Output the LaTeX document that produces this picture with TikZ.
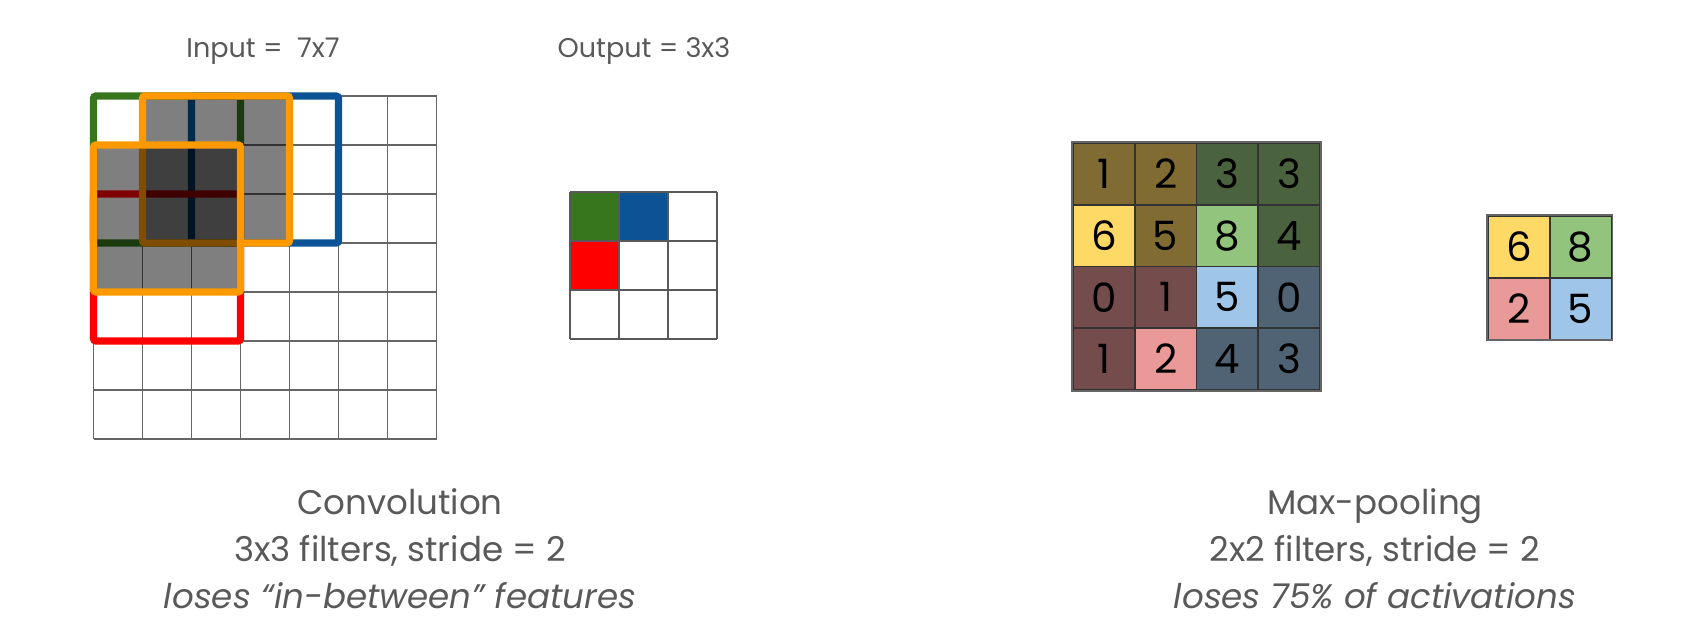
\documentclass[tikz,border=0pt]{standalone}
\usepackage{fontspec}
\setmainfont{Poppins}
\usepackage{xcolor}
\usepackage{tikz}

\definecolor{convgreen}{HTML}{38761D}
\definecolor{convblue}{HTML}{0B5394}
\definecolor{convred}{HTML}{FF0000}
\definecolor{convorange}{HTML}{FF9900}
\definecolor{gridgray}{HTML}{666666}
\definecolor{textgray}{HTML}{595959}
\definecolor{cellline}{HTML}{333333}
\definecolor{pyel}{HTML}{FFD966}
\definecolor{pgrn}{HTML}{93C47D}
\definecolor{pblu}{HTML}{9FC5E8}
\definecolor{ppnk}{HTML}{EA9999}
\colorlet{pyeldark}{pyel!50!black}
\colorlet{pgrndark}{pgrn!50!black}
\colorlet{pbludark}{pblu!50!black}
\colorlet{ppnkdark}{ppnk!50!black}

\begin{document}
\begin{tikzpicture}[
        gridline/.style={draw=gridgray, line width=1.1pt},
        frame/.style={line width=4.2pt, rounded corners=1.5pt},
        window/.style={frame, draw=convorange, fill=black, fill opacity=0.5, draw opacity=1},
        poolcell/.style={rectangle, draw=cellline, line width=1.1pt, minimum size=1.235cm, inner sep=0pt, font=\fontsize{23}{27}\selectfont, text=black},
        toplabel/.style={font=\fontsize{15.4}{18}\selectfont, text=textgray, anchor=base},
        caption/.style={font=\fontsize{19.4}{23}\selectfont, text=textgray, anchor=base}
    ]
        \useasboundingbox (0,0) rectangle (33.76,12.56);

        % ========== CONVOLUTION INPUT 7x7 ==========
        \begin{scope}[shift={(1.87,3.78)}, scale=0.98]
            \draw[gridline] (0,0) grid (7,7);
            \draw[frame, draw=convgreen] (0,4) rectangle (3,7);
            \draw[frame, draw=convblue] (2,4) rectangle (5,7);
            \draw[frame, draw=convred] (0,2) rectangle (3,5);
            \draw[window] (1,4) rectangle (4,7);
            \draw[window] (0,3) rectangle (3,6);
        \end{scope}

        % ========== CONVOLUTION OUTPUT 3x3 ==========
        \begin{scope}[shift={(11.4,5.78)}, scale=0.98]
            \fill[convgreen] (0,2) rectangle (1,3);
            \fill[convblue] (1,2) rectangle (2,3);
            \fill[convred] (0,1) rectangle (1,2);
            \draw[gridline, draw=textgray] (0,0) grid (3,3);
        \end{scope}

        % ========== MAX-POOLING INPUT 4x4 ==========
        \foreach \v/\c [count=\k from 0] in {1/pyeldark,2/pyeldark,3/pgrndark,3/pgrndark,
                6/pyel,5/pyeldark,8/pgrn,4/pgrndark,
                0/ppnkdark,1/ppnkdark,5/pblu,0/pbludark,
                1/ppnkdark,2/ppnk,4/pbludark,3/pbludark}{
            \pgfmathtruncatemacro\col{mod(\k,4)}
            \pgfmathtruncatemacro\row{div(\k,4)}
            \node[poolcell, fill=\c] (pin\k) at ({21.46+(\col+0.5)*1.235}, {9.70-(\row+0.5)*1.235}) {\v};
        }
        \draw[gridline] (pin0.north west) rectangle (pin15.south east);

        % ========== MAX-POOLING OUTPUT 2x2 ==========
        \foreach \v/\c [count=\k from 0] in {6/pyel,8/pgrn,2/ppnk,5/pblu}{
            \pgfmathtruncatemacro\col{mod(\k,2)}
            \pgfmathtruncatemacro\row{div(\k,2)}
            \node[poolcell, fill=\c] (pout\k) at ({29.76+(\col+0.5)*1.235}, {8.24-(\row+0.5)*1.235}) {\v};
        }
        \draw[gridline] (pout0.north west) rectangle (pout3.south east);

        % ========== LABELS ==========
        \node[toplabel] (inputlbl) at (5.26,11.40) {Input = \ 7x7};
        \node[toplabel] (outputlbl) at (12.88,11.40) {Output = 3x3};

        \node[caption] (convtitle) at (8.0,2.27) {Convolution};
        \node[caption] (convstride) at (8.0,1.33) {3x3 filters, stride = 2};
        \node[caption, font=\fontsize{19.4}{23}\selectfont\itshape] (convloss) at (8.0,0.38) {loses “in-between” features};

        \node[caption] (pooltitle) at (27.5,2.27) {Max-pooling};
        \node[caption] (poolstride) at (27.5,1.33) {2x2 filters, stride = 2};
        \node[caption, font=\fontsize{19.4}{23}\selectfont\itshape] (poolloss) at (27.5,0.38) {loses 75\% of activations};

    \end{tikzpicture}
\end{document}
